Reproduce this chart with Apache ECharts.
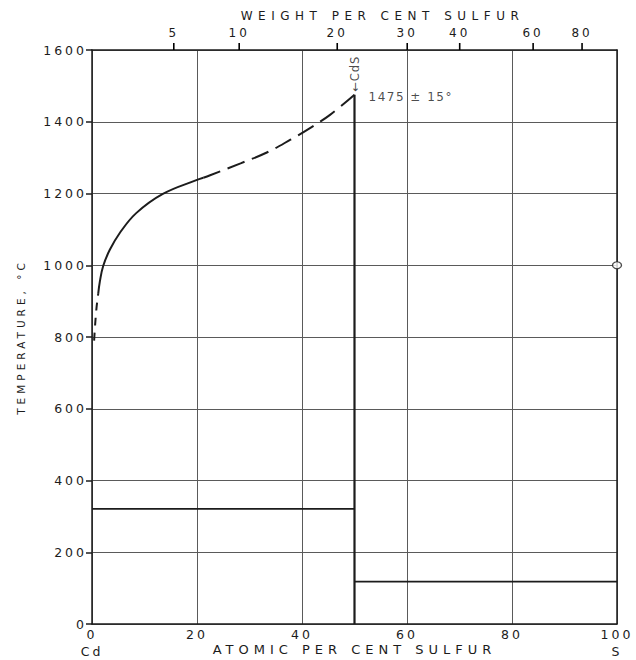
<!DOCTYPE html>
<html>
<head>
<meta charset="utf-8">
<script src="https://cdn.jsdelivr.net/npm/echarts@6/dist/echarts.min.js"></script>
<style>
  html, body { margin: 0; padding: 0; background: #fff; }
  #chart { width: 636px; height: 660px; }
</style>
</head>
<body>
<div id="chart"></div>
<script>
// Cadmium–sulfur constitution diagram

// Axis ranges and tick values
const atomicRange = [0, 100];
const atomicInterval = 20;
const tempRange = [0, 1600];
const tempInterval = 200;
const weightTicks = [5, 10, 20, 30, 40, 60, 80];

// Atomic masses used to place the weight-percent scale
const MASS_CD = 112.41;
const MASS_S = 32.06;

// Liquidus on the Cd side of CdS (atomic % S, °C)
const liquidusLowDashed = [[0.4, 790], [0.6, 835], [0.85, 880], [1.18, 920]];
const liquidusSolid = [
  [1.18, 920], [1.5, 955], [2.13, 998], [3.39, 1043], [5.29, 1090],
  [8.47, 1146], [13.5, 1199], [20, 1238], [21.2, 1244]
];
const liquidusDashed = [
  [21.2, 1244], [22.5, 1251], [28.3, 1284], [33.4, 1315], [37.8, 1350],
  [41.6, 1383], [45.4, 1420], [50, 1475]
];

// Invariant horizontals and the compound line
const cdEutecticLine = [[0, 321], [50, 321]];
const sEutecticLine = [[50, 118], [100, 118]];
const cdsLine = [[50, 0], [50, 1475]];
const cdsMelting = [50, 1475];
const sulfurPoint = [100, 1000];

const cdsLabel = '←CdS';
const cdsMeltLabel = '1475 ± 15°';

function weightToAtomic(w) {
  const s = w / MASS_S;
  const c = (100 - w) / MASS_CD;
  return 100 * s / (s + c);
}
const weightTickPos = weightTicks.map(weightToAtomic);

const FONT = 'DejaVu Sans';
const INK = '#1c1c1c';
const GRID = '#5a5a5a';

const chart = echarts.init(document.getElementById('chart'), null, { renderer: 'svg' });

const lineBase = {
  type: 'line',
  showSymbol: false,
  symbol: 'none',
  silent: true,
  xAxisIndex: 0,
  yAxisIndex: 0
};

chart.setOption({
  animation: false,
  backgroundColor: '#fff',
  grid: { left: 92, right: 19, top: 50, bottom: 36, containLabel: false, outerBoundsMode: 'none' },
  xAxis: [
    {
      type: 'value',
      position: 'bottom',
      min: atomicRange[0], max: atomicRange[1], interval: atomicInterval,
      name: 'ATOMIC PER CENT SULFUR',
      nameLocation: 'middle',
      nameGap: 19,
      nameMoveOverlap: false,
      nameTextStyle: { fontFamily: FONT, fontSize: 13, color: INK },
      axisLine: { onZero: false, lineStyle: { color: INK, width: 1.5 } },
      axisTick: { show: false },
      axisLabel: {
        fontFamily: FONT, fontSize: 12.5, color: INK, margin: 2, lineHeight: 17,
        formatter: function (v) {
          if (v === 0) return '0\nCd';
          if (v === 100) return '100\nS';
          return String(v);
        }
      },
      splitLine: { show: true, lineStyle: { color: GRID, width: 1 } }
    },
    {
      type: 'value',
      position: 'top',
      min: atomicRange[0], max: atomicRange[1],
      name: 'WEIGHT PER CENT SULFUR',
      nameLocation: 'middle',
      nameGap: 28,
      nameMoveOverlap: false,
      nameTextStyle: { fontFamily: FONT, fontSize: 12, color: INK, padding: [0, 0, 0, 56] },
      axisLine: { onZero: false, lineStyle: { color: INK, width: 1.5 } },
      axisTick: { show: false },
      axisLabel: {
        fontFamily: FONT, fontSize: 12, color: INK, margin: 11,
        customValues: weightTickPos,
        formatter: function (v) {
          let best = 0;
          weightTickPos.forEach(function (p, i) {
            if (Math.abs(p - v) < Math.abs(weightTickPos[best] - v)) best = i;
          });
          return String(weightTicks[best]);
        }
      },
      splitLine: { show: false }
    }
  ],
  yAxis: [
    {
      type: 'value',
      position: 'left',
      min: tempRange[0], max: tempRange[1], interval: tempInterval,
      name: 'TEMPERATURE, °C',
      nameLocation: 'middle',
      nameGap: 66,
      nameMoveOverlap: false,
      nameTextStyle: { fontFamily: FONT, fontSize: 10.5, color: INK },
      axisLine: { show: true, onZero: false, lineStyle: { color: INK, width: 1.5 } },
      axisTick: { show: true, length: 6, lineStyle: { color: INK, width: 1.5 } },
      axisLabel: {
        fontFamily: FONT, fontSize: 12.5, color: INK, margin: 5,
        formatter: function (v) { return String(v); }
      },
      splitLine: { show: true, lineStyle: { color: GRID, width: 1 } }
    },
    {
      type: 'value',
      position: 'right',
      min: tempRange[0], max: tempRange[1], interval: tempInterval,
      axisLine: { show: true, onZero: false, lineStyle: { color: INK, width: 1.5 } },
      axisTick: { show: false },
      axisLabel: { show: false },
      splitLine: { show: false }
    }
  ],
  series: [
    Object.assign({}, lineBase, {
      data: liquidusLowDashed, smooth: 0.3,
      lineStyle: { color: INK, width: 2, type: [8, 7] }
    }),
    Object.assign({}, lineBase, {
      data: liquidusSolid, smooth: 0.4,
      lineStyle: { color: INK, width: 2 }
    }),
    Object.assign({}, lineBase, {
      data: liquidusDashed, smooth: 0.4,
      lineStyle: { color: INK, width: 2, type: [18, 8] }
    }),
    Object.assign({}, lineBase, {
      data: cdEutecticLine, lineStyle: { color: INK, width: 1.8 }
    }),
    Object.assign({}, lineBase, {
      data: sEutecticLine, lineStyle: { color: INK, width: 1.8 }
    }),
    Object.assign({}, lineBase, {
      data: cdsLine, lineStyle: { color: INK, width: 2.2 }
    }),
    // Tick marks of the weight-percent scale, standing on the top border
    {
      type: 'custom',
      silent: true,
      clip: false,
      xAxisIndex: 0,
      yAxisIndex: 0,
      data: weightTickPos.map(function (p) { return [p, tempRange[1]]; }),
      renderItem: function (params, api) {
        const pt = api.coord([api.value(0), api.value(1)]);
        return {
          type: 'rect',
          shape: { x: pt[0] - 0.8, y: pt[1] - 7, width: 1.6, height: 7 },
          style: { fill: '#000' }
        };
      },
      z: 6
    },
    {
      type: 'scatter',
      silent: true,
      symbolSize: 0,
      data: [
        {
          value: cdsMelting,
          label: {
            show: true, formatter: cdsLabel, position: 'top', distance: 3,
            rotate: 90, align: 'left', verticalAlign: 'middle',
            fontFamily: FONT, fontSize: 11.5, color: INK
          }
        },
        {
          value: cdsMelting,
          label: {
            show: true, formatter: cdsMeltLabel, position: 'right', distance: 14,
            offset: [0, 2], fontFamily: FONT, fontSize: 12, color: INK
          }
        }
      ]
    },
    {
      type: 'scatter',
      silent: true,
      symbol: 'circle',
      symbolSize: [9, 7],
      itemStyle: { color: '#fff', borderColor: INK, borderWidth: 1.2 },
      data: [sulfurPoint],
      z: 5
    }
  ]
});

// Spread the lettering out the way drafted labels are spaced
const SPACING = {
  'WEIGHT PER CENT SULFUR': 5.5,
  'ATOMIC PER CENT SULFUR': 5,
  'TEMPERATURE, °C': 4,
  '1475 ± 15°': 1.5,
  '←CdS': 1
};
function spaceLetters() {
  chart.getDom().querySelectorAll('svg text').forEach(function (t) {
    const s = SPACING[t.textContent.trim()];
    t.setAttribute('letter-spacing', (s !== undefined ? s : 3) + 'px');
  });
}
spaceLetters();
chart.on('finished', spaceLetters);
</script>
</body>
</html>
